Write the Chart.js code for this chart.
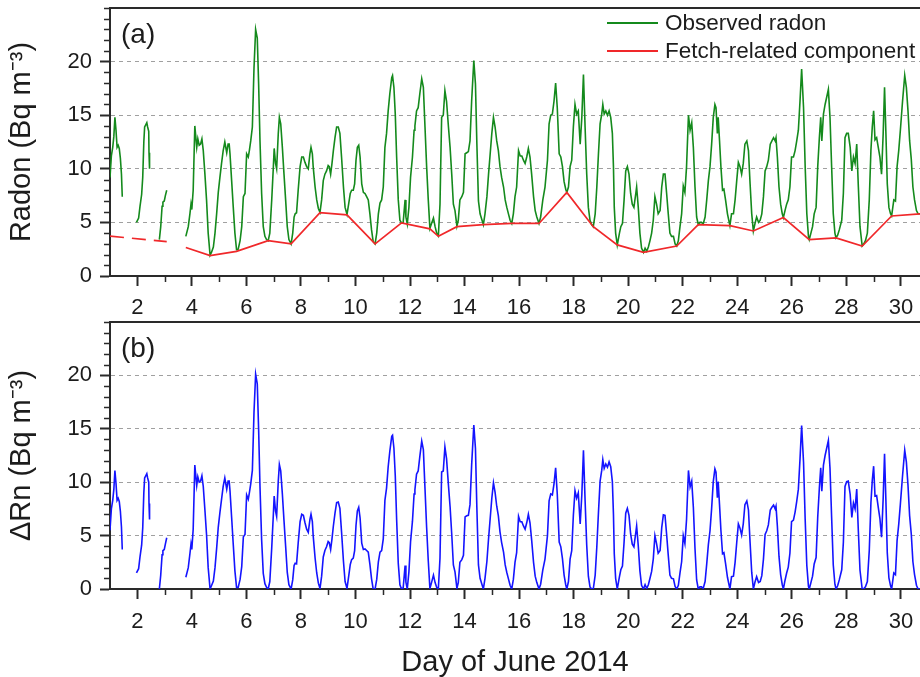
<!DOCTYPE html>
<html>
<head>
<meta charset="utf-8">
<script src="https://cdn.jsdelivr.net/npm/chart.js@4.4.1/dist/chart.umd.min.js"></script>
<style>
  html, body { margin: 0; padding: 0; background: #ffffff; }
  #wrap { position: relative; width: 920px; height: 677px; overflow: hidden; background: #ffffff; }
  #wrap canvas { position: absolute; left: 0; }
  #radonChart { top: 0; }
  #deltaChart { top: 318px; }
</style>
</head>
<body>
<div id="wrap">
  <canvas id="radonChart" width="920" height="318"></canvas>
  <canvas id="deltaChart" width="920" height="359"></canvas>
</div>
<script>
// ---- Axis layout values -------------------------------------------------
const dayRange = [1, 30.7];
const dayTicks = [1, 2, 3, 4, 5, 6, 7, 8, 9, 10, 11, 12, 13, 14, 15, 16, 17, 18, 19, 20,
                  21, 22, 23, 24, 25, 26, 27, 28, 29, 30];
const labelledDays = [2, 4, 6, 8, 10, 12, 14, 16, 18, 20, 22, 24, 26, 28, 30];
const radonTicks = [0, 1, 2, 3, 4, 5, 6, 7, 8, 9, 10, 11, 12, 13, 14, 15, 16, 17, 18, 19,
                    20, 21, 22, 23, 24, 25];
const labelledRadon = [0, 5, 10, 15, 20];
const gridLevels = [5, 10, 15, 20];

// ---- Hourly-ish observations (day of June 2014) ---------------------------
// null entries mark gaps in the record
const obsDay = [
  1.00, 1.05, 1.10, 1.14, 1.18, 1.22, 1.26, 1.30, 1.34, 1.38, 1.42, 1.45, 1.70,
  1.97, 2.05, 2.10, 2.16, 2.20, 2.24, 2.27, 2.31, 2.35, 2.38, 2.42, 2.43, 2.45, 2.60,
  2.81, 2.86, 2.91, 2.94, 2.99, 3.03, 3.08, 3.40,
  3.78, 3.87, 3.93, 3.97, 4.00, 4.05, 4.11, 4.18, 4.22, 4.27, 4.32, 4.37, 4.42, 4.48, 4.54, 4.60, 4.67,
  4.72, 4.79, 4.85, 4.91, 4.97, 5.03, 5.09, 5.15, 5.21, 5.28, 5.33, 5.37, 5.40, 5.46, 5.52, 5.58, 5.64,
  5.70, 5.77, 5.83, 5.89, 5.95, 6.01, 6.07, 6.11, 6.16, 6.22, 6.28, 6.34, 6.40, 6.45, 6.50, 6.56, 6.62, 6.68, 6.74, 6.80,
  6.86, 6.93, 6.99, 7.02, 7.07, 7.11, 7.17, 7.21, 7.26, 7.32, 7.38, 7.44, 7.50, 7.56, 7.64,
  7.70, 7.75, 7.79, 7.84, 7.90, 7.97, 8.03, 8.09, 8.15, 8.21, 8.27, 8.33, 8.37, 8.42, 8.45, 8.52, 8.58, 8.64, 8.70,
  8.76, 8.82, 8.88, 8.94, 9.00, 9.04, 9.09, 9.14, 9.19, 9.25, 9.31, 9.37, 9.43, 9.49, 9.56, 9.62, 9.69,
  9.75, 9.81, 9.86, 9.92, 9.97, 10.02, 10.07, 10.12, 10.17, 10.23, 10.29, 10.35, 10.41, 10.47, 10.53, 10.59, 10.65, 10.72,
  10.78, 10.84, 10.90, 10.96, 11.02, 11.08, 11.14, 11.20, 11.26, 11.33, 11.36, 11.41, 11.46, 11.51, 11.57, 11.63, 11.69,
  11.75, 11.82, 11.85, 11.90, 11.96, 12.02, 12.09, 12.15, 12.18, 12.24, 12.30, 12.36, 12.43, 12.49, 12.55, 12.61, 12.67, 12.73,
  12.79, 12.86, 12.92, 12.98, 13.04, 13.10, 13.16, 13.22, 13.28, 13.34, 13.41, 13.47, 13.53, 13.59, 13.65, 13.72,
  13.77, 13.83, 13.90, 13.96, 14.02, 14.08, 14.14, 14.20, 14.26, 14.34, 14.40, 14.45, 14.51, 14.57, 14.63, 14.69,
  14.75, 14.82, 14.88, 14.94, 15.00, 15.06, 15.12, 15.18, 15.24, 15.30, 15.36, 15.43, 15.49, 15.55, 15.61, 15.67, 15.73,
  15.79, 15.85, 15.91, 15.98, 16.04, 16.10, 16.16, 16.22, 16.28, 16.34, 16.40, 16.46, 16.53, 16.59, 16.65, 16.73,
  16.79, 16.87, 16.95, 17.04, 17.10, 17.16, 17.22, 17.28, 17.34, 17.40, 17.47, 17.53, 17.59, 17.65, 17.71, 17.75,
  17.81, 17.87, 17.93, 17.99, 18.05, 18.11, 18.17, 18.24, 18.30, 18.36, 18.42, 18.48, 18.54, 18.60, 18.66, 18.72,
  18.79, 18.85, 18.91, 18.97, 19.03, 19.07, 19.12, 19.18, 19.24, 19.30, 19.36, 19.42, 19.46, 19.49, 19.54, 19.60,
  19.68, 19.73, 19.79, 19.85, 19.91, 19.97, 20.03, 20.09, 20.15, 20.21, 20.28, 20.31, 20.37, 20.43, 20.49, 20.56,
  20.62, 20.68, 20.74, 20.80, 20.86, 20.92, 20.98, 21.04, 21.10, 21.17, 21.23, 21.29, 21.35, 21.41, 21.47, 21.53, 21.59, 21.66, 21.72, 21.78,
  21.84, 21.90, 21.96, 22.02, 22.08, 22.14, 22.21, 22.27, 22.33, 22.39, 22.45, 22.51, 22.57,
  22.63, 22.69, 22.75, 22.82, 22.88, 22.94, 23.00, 23.06, 23.12, 23.18, 23.22, 23.27, 23.30, 23.35, 23.40, 23.46, 23.51, 23.57, 23.64, 23.73,
  23.79, 23.86, 23.92, 23.98, 24.04, 24.10, 24.16, 24.22, 24.28, 24.35, 24.41, 24.47, 24.53, 24.59,
  24.65, 24.71, 24.78, 24.84, 24.90, 24.96, 25.02, 25.08, 25.14, 25.21, 25.27, 25.33, 25.39, 25.42, 25.47, 25.53, 25.59, 25.65, 25.69,
  25.75, 25.81, 25.87, 25.93, 25.99, 26.06, 26.12, 26.18, 26.24, 26.30, 26.36, 26.43, 26.49, 26.55, 26.61, 26.64,
  26.70, 26.76, 26.82, 26.89, 26.95, 27.01, 27.06, 27.10, 27.16, 27.22, 27.28, 27.34, 27.40, 27.46, 27.52, 27.58, 27.62,
  27.68, 27.74, 27.83, 27.89, 27.95, 28.01, 28.07, 28.14, 28.20, 28.26, 28.32, 28.38, 28.44, 28.50, 28.58,
  28.64, 28.70, 28.77, 28.84, 28.90, 28.95, 29.00, 29.05, 29.11, 29.17, 29.23, 29.29, 29.35, 29.40, 29.45, 29.50, 29.56, 29.62, 29.66,
  29.74, 29.80, 29.86, 29.92, 29.98, 30.06, 30.14, 30.20, 30.26, 30.32, 30.38, 30.44, 30.50, 30.57, 30.63, 30.70
];

// Observed radon concentration (Bq m-3)
const obsRadon = [
  9.2, 11.2, 12.0, 13.0, 14.8, 13.6, 12.0, 12.2, 11.9, 11.0, 9.5, 7.4, null,
  5.0, 5.4, 6.5, 7.6, 9.2, 12.5, 13.9, 14.1, 14.3, 13.9, 13.5, 11.5, 10.0, null,
  3.4, 4.6, 6.5, 6.9, 7.0, 7.5, 8.0, null,
  3.7, 4.6, 5.8, 6.7, 6.2, 8.0, 14.0, 12.0, 12.8, 12.2, 12.3, 12.8, 11.7, 9.5, 7.1, 4.0, 1.95,
  2.2, 2.7, 4.0, 5.8, 7.8, 9.2, 10.5, 11.7, 12.5, 11.5, 12.3, 12.3, 11.4, 8.9, 6.4, 4.0, 2.45,
  2.5, 3.3, 4.6, 7.4, 7.7, 11.4, 11.1, 11.7, 12.6, 13.9, 19.4, 23.0, 22.2, 17.9, 12.6, 7.7, 4.6, 3.7, 3.4, 3.3,
  4.0, 7.1, 10.2, 11.9, 10.5, 10.0, 13.3, 14.8, 14.2, 12.0, 9.5, 7.1, 4.6, 3.4, 3.0,
  4.0, 5.5, 5.8, 5.9, 8.0, 10.2, 11.1, 11.1, 10.6, 10.2, 10.0, 11.4, 12.0, 11.4, 10.2, 8.3, 7.1, 6.3, 5.95,
  7.1, 8.9, 9.5, 9.8, 10.3, 10.2, 9.5, 10.5, 11.7, 12.9, 13.9, 13.9, 13.3, 11.1, 8.3, 6.4, 5.75,
  6.7, 7.7, 8.0, 8.0, 8.6, 10.8, 12.0, 12.2, 11.1, 8.6, 7.8, 7.7, 7.4, 7.1, 5.8, 4.3, 3.2, 3.0,
  4.0, 5.8, 6.8, 7.1, 8.3, 12.0, 13.3, 15.4, 17.0, 18.5, 18.7, 17.6, 15.1, 11.1, 7.1, 5.2, 4.95,
  5.0, 7.1, 5.5, 4.85, 6.4, 9.2, 11.1, 13.6, 14.0, 15.4, 15.7, 17.0, 18.4, 17.6, 13.9, 10.2, 7.1, 4.45,
  4.9, 5.4, 4.6, 4.0, 3.75, 6.7, 14.8, 15.0, 17.3, 16.3, 13.9, 12.0, 9.5, 6.7, 6.1, 4.65,
  5.2, 7.1, 7.4, 7.8, 11.4, 11.5, 11.6, 12.6, 16.3, 20.1, 17.9, 12.5, 7.0, 5.8, 5.3, 4.8,
  5.8, 7.4, 9.5, 11.4, 13.3, 14.8, 13.9, 12.6, 11.7, 10.2, 9.2, 8.3, 7.1, 6.4, 5.8, 5.2, 4.9,
  5.8, 7.4, 8.3, 11.7, 11.2, 11.2, 10.8, 10.5, 11.1, 11.9, 11.1, 9.5, 7.4, 6.1, 5.5, 4.9,
  5.5, 7.1, 8.3, 10.8, 14.2, 15.0, 15.1, 16.3, 18.0, 15.7, 11.4, 11.1, 10.2, 8.8, 8.1, 7.8,
  8.3, 10.2, 10.8, 13.9, 16.0, 15.1, 15.4, 12.3, 14.8, 18.8, 13.9, 9.5, 6.4, 5.2, 4.8, 4.6,
  5.8, 8.3, 11.4, 14.2, 15.1, 16.0, 15.1, 15.4, 15.0, 15.4, 14.8, 13.3, 10.2, 6.4, 4.0, 2.9,
  4.0, 4.6, 4.9, 7.1, 9.8, 10.2, 9.5, 7.7, 6.7, 6.4, 7.7, 8.3, 6.4, 4.0, 2.6, 2.2,
  2.6, 2.3, 2.7, 3.3, 4.0, 5.2, 7.4, 6.7, 5.8, 6.1, 8.3, 9.5, 9.5, 7.7, 5.8, 4.0, 3.7, 3.7, 3.0, 2.8,
  3.3, 4.6, 5.8, 8.4, 7.8, 10.2, 15.0, 13.6, 14.3, 12.0, 8.3, 5.5, 4.8,
  5.0, 5.0, 4.85, 5.5, 7.1, 8.9, 10.2, 12.3, 14.8, 16.0, 15.7, 13.3, 14.8, 12.6, 10.2, 8.0, 8.1, 7.1, 5.8, 4.7,
  5.8, 5.8, 7.1, 8.9, 10.6, 10.2, 9.5, 10.5, 12.3, 12.6, 11.7, 8.6, 5.8, 4.2,
  4.9, 5.5, 5.0, 5.2, 5.8, 7.4, 9.8, 10.2, 10.8, 12.3, 12.6, 12.9, 12.6, 12.9, 11.1, 8.3, 6.7, 5.8, 5.45,
  6.1, 6.7, 7.1, 8.3, 11.1, 11.1, 11.7, 12.6, 13.6, 16.3, 19.3, 15.7, 10.2, 5.8, 3.7, 3.4,
  4.0, 4.6, 5.8, 6.4, 10.2, 12.9, 14.8, 12.6, 15.1, 16.0, 16.7, 17.4, 14.8, 10.2, 5.8, 4.0, 3.55,
  3.8, 4.3, 5.2, 7.7, 12.9, 13.3, 13.3, 12.0, 9.8, 11.1, 10.5, 12.3, 8.3, 4.6, 2.8,
  3.0, 3.3, 4.0, 7.1, 11.7, 13.9, 15.4, 12.7, 12.9, 12.0, 11.1, 9.5, 13.3, 17.6, 13.3, 8.6, 6.4, 5.8, 5.6,
  7.1, 7.0, 10.2, 11.7, 13.6, 16.3, 18.7, 17.6, 15.4, 12.6, 10.9, 8.3, 7.1, 6.1, 5.8, 5.8
];

// Radon excess above the fetch-related baseline, ΔRn (Bq m-3)
const deltaRn = [
  5.5, 7.5, 8.3, 9.3, 11.1, 9.9, 8.3, 8.5, 8.2, 7.3, 5.8, 3.7, null,
  1.5, 1.9, 3.0, 4.1, 5.7, 9.0, 10.4, 10.6, 10.8, 10.4, 10.0, 8.0, 6.5, null,
  0.0, 1.3, 3.2, 3.6, 3.7, 4.2, 4.8, null,
  1.1, 2.0, 3.3, 4.2, 3.7, 5.6, 11.6, 9.7, 10.5, 10.0, 10.1, 10.6, 9.6, 7.4, 5.1, 2.0, 0.0,
  0.3, 0.75, 2.0, 3.8, 5.8, 7.15, 8.4, 9.6, 10.4, 9.35, 10.1, 10.1, 9.2, 6.7, 4.15, 1.7, 0.15,
  0.15, 0.9, 2.1, 4.9, 5.1, 8.8, 8.4, 9.0, 9.85, 11.1, 16.55, 20.1, 19.2, 14.9, 9.55, 4.6, 1.45, 0.5, 0.15, 0.0,
  0.7, 3.85, 7.0, 8.7, 7.3, 6.8, 10.1, 11.65, 11.05, 8.9, 6.4, 4.0, 1.55, 0.4, 0.0,
  0.85, 2.2, 2.4, 2.35, 4.3, 6.3, 7.0, 6.9, 6.2, 5.6, 5.3, 6.5, 7.0, 6.3, 5.0, 2.9, 1.5, 0.55, 0.05,
  1.2, 3.0, 3.6, 3.95, 4.45, 4.35, 3.7, 4.7, 5.9, 7.1, 8.1, 8.15, 7.55, 5.35, 2.6, 0.7, 0.05,
  1.15, 2.3, 2.75, 2.9, 3.6, 5.95, 7.3, 7.65, 6.65, 4.3, 3.7, 3.75, 3.6, 3.45, 2.3, 0.95, 0.0, 0.0,
  0.9, 2.55, 3.45, 3.6, 4.7, 8.3, 9.45, 11.45, 12.9, 14.3, 14.4, 13.2, 10.6, 6.5, 2.4, 0.4, 0.0,
  0.1, 2.2, 0.65, 0.0, 1.6, 4.4, 6.35, 8.9, 9.3, 10.75, 11.05, 12.4, 13.85, 13.05, 9.4, 5.75, 2.65, 0.05,
  0.6, 1.3, 0.6, 0.15, 0.05, 2.9, 10.95, 11.05, 13.3, 12.2, 9.7, 7.7, 5.15, 2.25, 1.6, 0.05,
  0.6, 2.5, 2.75, 3.15, 6.75, 6.85, 6.9, 7.9, 11.6, 15.35, 13.15, 7.75, 2.25, 1.0, 0.5, 0.0,
  1.0, 2.6, 4.7, 6.6, 8.5, 9.95, 9.05, 7.75, 6.85, 5.35, 4.35, 3.45, 2.25, 1.55, 0.95, 0.35, 0.0,
  0.9, 2.5, 3.4, 6.8, 6.3, 6.3, 5.9, 5.6, 6.2, 7.0, 6.2, 4.6, 2.5, 1.2, 0.6, 0.0,
  0.45, 1.8, 2.8, 5.0, 8.25, 8.9, 8.8, 9.85, 11.35, 8.9, 4.4, 3.95, 2.85, 1.3, 0.4, 0.0,
  0.7, 2.8, 3.6, 6.9, 9.2, 8.5, 9.0, 6.1, 8.8, 13.0, 8.3, 4.1, 1.2, 0.2, 0.0, 0.0,
  1.3, 3.95, 7.15, 10.1, 11.1, 12.1, 11.3, 11.7, 11.4, 11.9, 11.45, 10.05, 7.0, 3.3, 1.0, 0.0,
  1.15, 1.8, 2.15, 4.4, 7.1, 7.55, 6.9, 5.15, 4.2, 3.95, 5.3, 5.9, 4.05, 1.7, 0.35, 0.0,
  0.4, 0.05, 0.4, 1.0, 1.65, 2.8, 5.0, 4.25, 3.35, 3.6, 5.75, 6.95, 6.9, 5.1, 3.15, 1.3, 1.0, 0.95, 0.25, 0.0,
  0.35, 1.5, 2.55, 5.0, 4.25, 6.5, 11.1, 9.55, 10.1, 7.65, 3.8, 0.85, 0.0,
  0.2, 0.2, 0.05, 0.7, 2.35, 4.15, 5.45, 7.55, 10.05, 11.25, 10.95, 8.55, 10.05, 7.85, 5.5, 3.3, 3.4, 2.4, 1.1, 0.0,
  1.15, 1.2, 2.5, 4.35, 6.1, 5.7, 5.05, 6.1, 7.9, 8.25, 7.4, 4.35, 1.55, 0.0,
  0.65, 1.15, 0.6, 0.7, 1.25, 2.8, 5.1, 5.45, 6.0, 7.4, 7.65, 7.85, 7.5, 7.75, 5.9, 3.05, 1.35, 0.4, 0.0,
  0.8, 1.5, 2.05, 3.35, 6.3, 6.45, 7.2, 8.2, 9.35, 12.15, 15.3, 11.85, 6.5, 2.2, 0.25, 0.0,
  0.6, 1.2, 2.35, 2.95, 6.75, 9.45, 11.35, 9.15, 11.6, 12.5, 13.2, 13.9, 11.3, 6.7, 2.25, 0.45, 0.0,
  0.3, 0.85, 1.8, 4.35, 9.6, 10.05, 10.1, 8.85, 6.7, 8.05, 7.5, 9.35, 5.4, 1.75, 0.0,
  0.05, 0.2, 0.7, 3.6, 8.05, 10.15, 11.5, 8.7, 8.75, 7.65, 6.6, 4.85, 8.5, 12.65, 8.25, 3.4, 1.05, 0.3, 0.0,
  1.5, 1.35, 4.55, 6.05, 7.95, 10.6, 13.0, 11.9, 9.7, 6.85, 5.15, 2.55, 1.35, 0.35, 0.0, 0.0
];

// Fetch-related baseline: knots at the daily minima (dashed where interpolated)
const fetchDay = [
  1.00, 3.08, 3.40,
  3.78, 4.67, 5.64, 6.80, 7.64, 8.70, 9.69, 10.72, 11.69, 12.73, 13.04, 13.72, 14.69, 15.73,
  16.73, 17.75, 18.72, 19.60, 20.56, 21.78, 22.57, 23.73, 24.59, 25.69, 26.64, 27.62, 28.58,
  29.66, 30.70
];
const fetchRadon = [
  3.72, 3.20, null,
  2.66, 1.90, 2.30, 3.30, 3.00, 5.90, 5.70, 3.00, 4.95, 4.40, 3.70, 4.60, 4.80, 4.90,
  4.90, 7.80, 4.60, 2.90, 2.20, 2.80, 4.80, 4.70, 4.20, 5.45, 3.40, 3.55, 2.80,
  5.60, 5.80
];
const interpolatedUntil = 3.1;

// ---- Styling --------------------------------------------------------------
const FONT = "'Liberation Sans', Arial, Helvetica, sans-serif";
const INK = '#1c1c1c';
const AXIS = '#2a2a2a';
const GREEN = '#148a1c';
const RED = '#f0282a';
const BLUE = '#1414ff';

Chart.defaults.font.family = FONT;
Chart.defaults.color = INK;

const toPoints = (xs, ys) => xs.map((x, i) => ({ x: x, y: ys[i] }));

function xScale(withTitle) {
  return {
    type: 'linear',
    min: dayRange[0],
    max: dayRange[1],
    afterBuildTicks: s => { s.ticks = dayTicks.map(v => ({ value: v })); },
    afterFit: s => { s.height = withTitle ? 88 : 42; s.paddingLeft = 0; s.paddingRight = 0; },
    ticks: {
      autoSkip: false, maxRotation: 0, minRotation: 0, padding: withTitle ? 10 : 9,
      color: INK, font: { size: 22 },
      callback: v => labelledDays.includes(v) ? String(v) : ''
    },
    grid: {
      drawOnChartArea: false, tickLength: 10, tickWidth: 2,
      tickColor: c => (c.tick && labelledDays.includes(c.tick.value)) ? AXIS : 'rgba(0,0,0,0)'
    },
    border: { display: true, color: AXIS, width: 2 },
    title: {
      display: withTitle, text: 'Day of June 2014', color: INK,
      font: { size: 29, lineHeight: 1.0 }, padding: { top: 0, bottom: 0 }
    }
  };
}

function yScale(titleText) {
  return {
    type: 'linear',
    min: 0,
    max: 25,
    afterBuildTicks: s => { s.ticks = radonTicks.map(v => ({ value: v })); },
    afterFit: s => { s.width = 110; s.paddingTop = 0; s.paddingBottom = 0; },
    ticks: {
      autoSkip: false, padding: 8, color: INK, font: { size: 22 },
      callback: v => labelledRadon.includes(v) ? String(v) : ''
    },
    grid: {
      drawOnChartArea: true, lineWidth: 1,
      color: c => (c.tick && gridLevels.includes(c.tick.value)) ? '#a0a0a0' : 'rgba(0,0,0,0)',
      tickLength: 10, tickWidth: 2,
      tickColor: c => (c.tick && labelledRadon.includes(c.tick.value)) ? AXIS : 'rgba(0,0,0,0)'
    },
    border: { display: true, color: AXIS, width: 2, dash: [4, 4] },
    title: {
      display: true, text: titleText, color: INK,
      font: { size: 29 }, padding: { top: 5, bottom: 0 }
    }
  };
}

// Short minor ticks, the top frame line and the panel letter
const panelFrame = {
  id: 'panelFrame',
  afterDraw(chart, args, opts) {
    const { ctx, chartArea: a, scales: { x, y } } = chart;
    ctx.save();
    ctx.strokeStyle = AXIS;
    ctx.lineWidth = 1.5;
    ctx.beginPath();
    x.ticks.forEach(t => {
      if (labelledDays.includes(t.value) || t.value === dayRange[0]) return;
      const px = Math.round(x.getPixelForValue(t.value)) + 0.5;
      ctx.moveTo(px, a.bottom);
      ctx.lineTo(px, a.bottom + 6);
    });
    y.ticks.forEach(t => {
      if (labelledRadon.includes(t.value)) return;
      const py = Math.round(y.getPixelForValue(t.value)) + 0.5;
      ctx.moveTo(a.left, py);
      ctx.lineTo(a.left - 6, py);
    });
    ctx.stroke();
    ctx.lineWidth = 2;
    ctx.beginPath();
    ctx.moveTo(a.left - 1, a.top);
    ctx.lineTo(a.right, a.top);
    ctx.stroke();
    ctx.fillStyle = INK;
    ctx.font = '28px ' + FONT;
    ctx.textBaseline = 'middle';
    ctx.textAlign = 'left';
    ctx.fillText(opts.letter, a.left + 11, a.top + 27);
    ctx.restore();
  }
};

// Legend drawn inside the upper-right corner of the plot area
const cornerLegend = {
  id: 'cornerLegend',
  afterDraw(chart, args, opts) {
    if (!opts.show) return;
    const { ctx } = chart;
    ctx.save();
    ctx.font = '22.5px ' + FONT;
    ctx.textBaseline = 'middle';
    ctx.textAlign = 'left';
    chart.data.datasets.forEach((ds, i) => {
      const yy = opts.top + i * opts.rowGap;
      ctx.strokeStyle = ds.borderColor;
      ctx.lineWidth = 1.8;
      ctx.beginPath();
      ctx.moveTo(opts.left, yy);
      ctx.lineTo(opts.left + 51, yy);
      ctx.stroke();
      ctx.fillStyle = INK;
      ctx.fillText(ds.label, opts.left + 58, yy + 1);
    });
    ctx.restore();
  }
};

const common = {
  responsive: false,
  animation: false,
  events: [],
  parsing: true,
  elements: { point: { radius: 0 }, line: { tension: 0 } }
};

new Chart(document.getElementById('radonChart'), {
  type: 'line',
  data: {
    datasets: [
      {
        label: 'Observed radon',
        data: toPoints(obsDay, obsRadon),
        borderColor: GREEN, borderWidth: 1.6, spanGaps: false, order: 2
      },
      {
        label: 'Fetch-related component',
        data: toPoints(fetchDay, fetchRadon),
        borderColor: RED, borderWidth: 1.7, spanGaps: false, order: 1,
        segment: {
          borderDash: c => c.p1.parsed.x <= interpolatedUntil ? [14, 8] : undefined
        }
      }
    ]
  },
  options: Object.assign({}, common, {
    layout: { padding: { top: 8, right: 0, bottom: 0, left: 0 } },
    scales: { x: xScale(false), y: yScale('Radon (Bq m⁻³)') },
    plugins: {
      legend: { display: false },
      tooltip: { enabled: false },
      panelFrame: { letter: '(a)' },
      cornerLegend: { show: true, left: 607, top: 23, rowGap: 28 }
    }
  }),
  plugins: [panelFrame, cornerLegend]
});

new Chart(document.getElementById('deltaChart'), {
  type: 'line',
  data: {
    datasets: [
      {
        label: 'ΔRn',
        data: toPoints(obsDay, deltaRn),
        borderColor: BLUE, borderWidth: 1.6, spanGaps: false
      }
    ]
  },
  options: Object.assign({}, common, {
    layout: { padding: { top: 4, right: 0, bottom: 0, left: 0 } },
    scales: { x: xScale(true), y: yScale('ΔRn (Bq m⁻³)') },
    plugins: {
      legend: { display: false },
      tooltip: { enabled: false },
      panelFrame: { letter: '(b)' },
      cornerLegend: { show: false }
    }
  }),
  plugins: [panelFrame, cornerLegend]
});
</script>
</body>
</html>
